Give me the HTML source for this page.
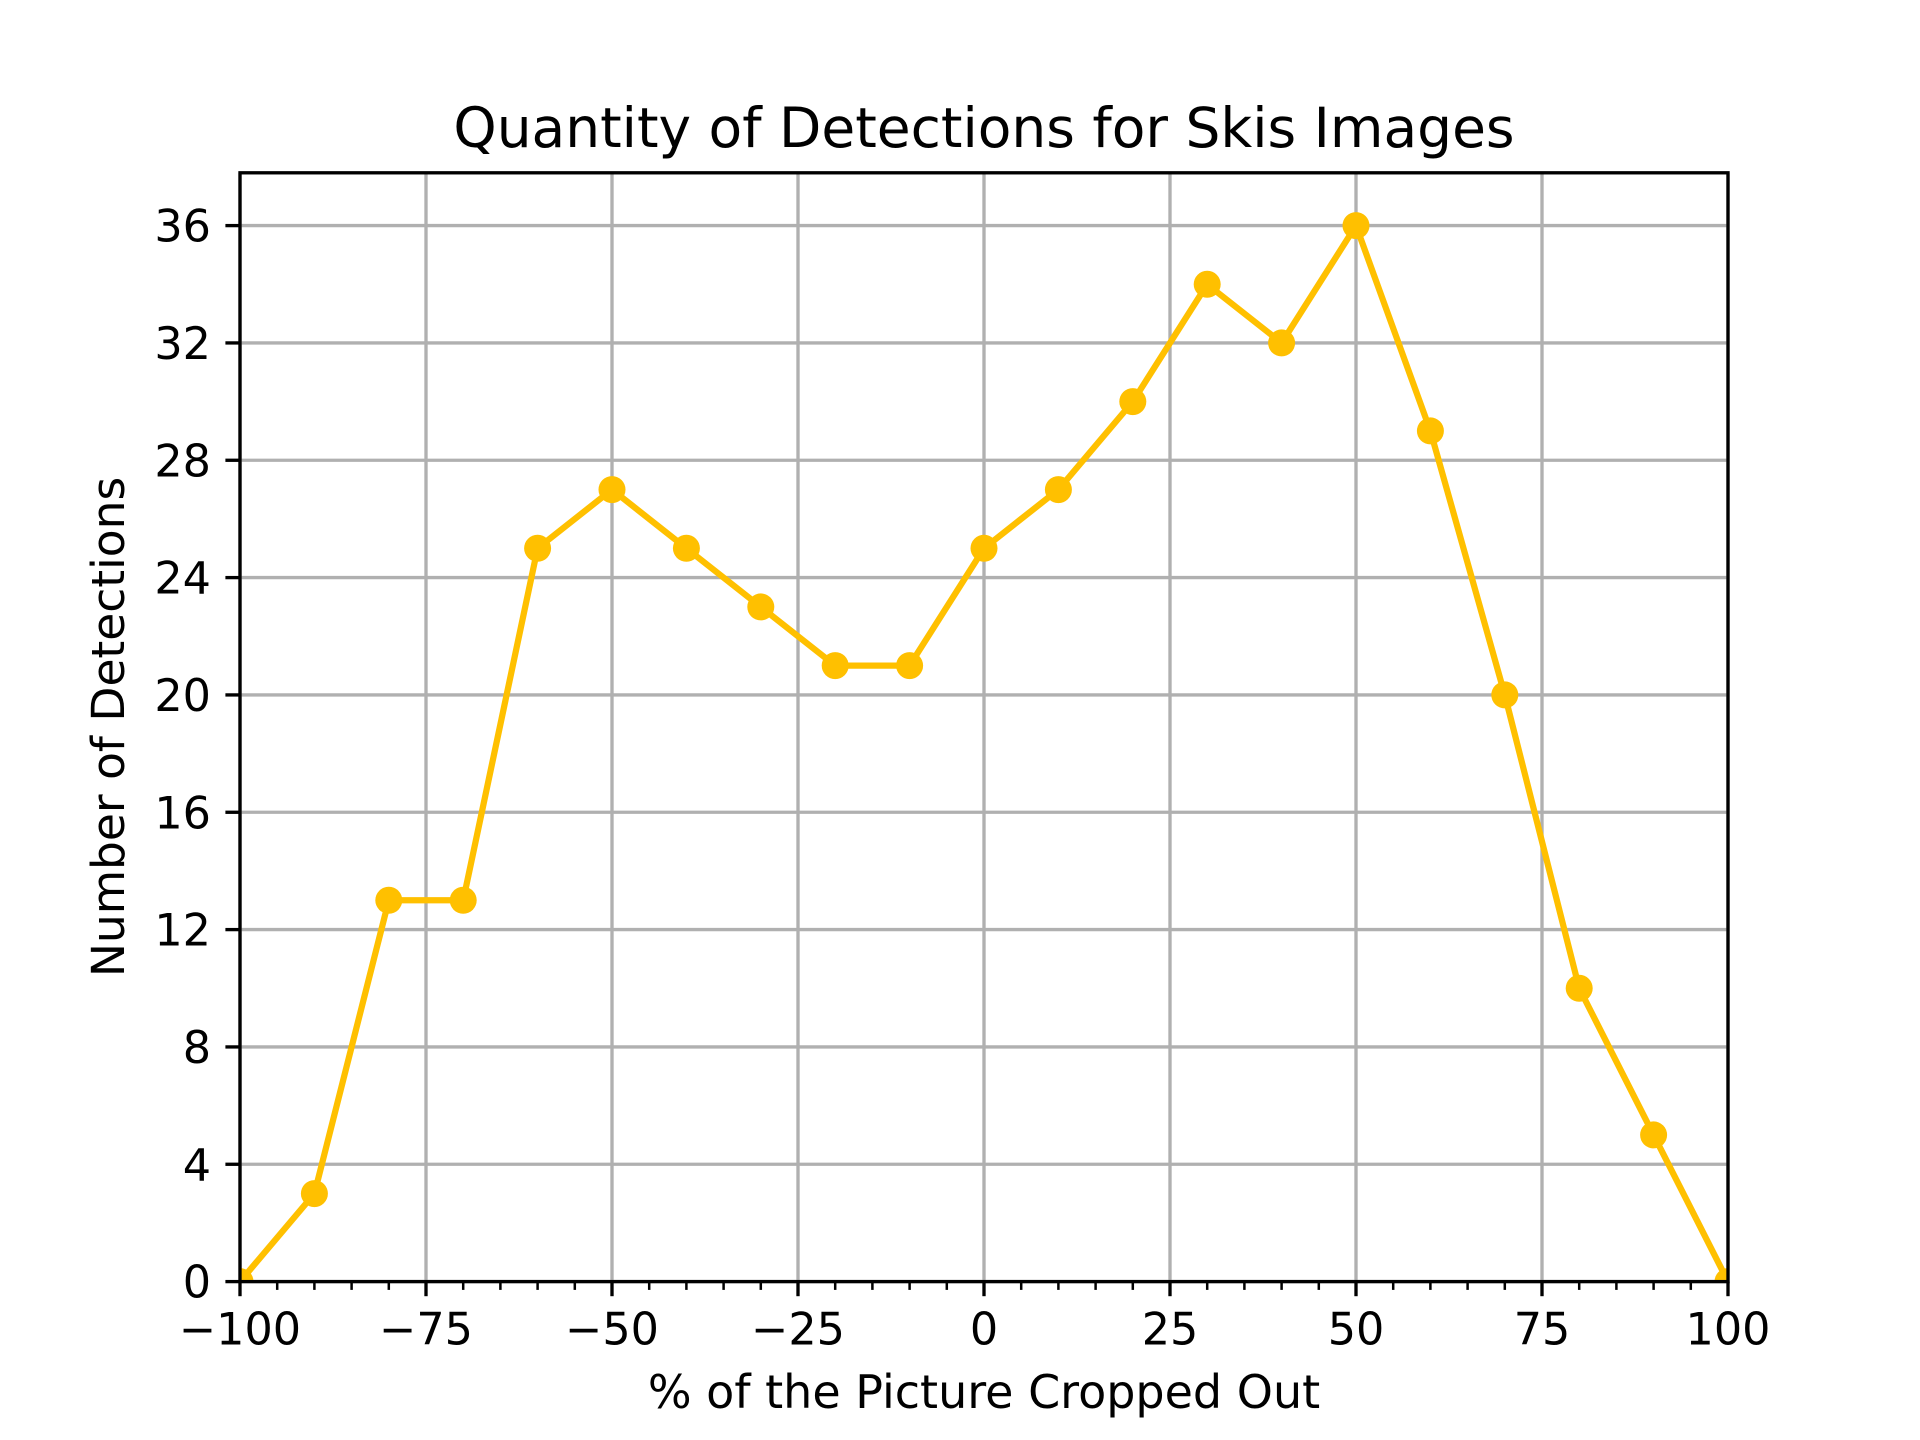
<!DOCTYPE html>
<html><head><meta charset="utf-8"><style>
html,body{margin:0;padding:0;background:#fff;}
svg{display:block;font-family:"DejaVu Sans","Liberation Sans",sans-serif;}
</style></head><body>
<svg id="chart" width="1920" height="1440" viewBox="0 0 1920 1440">
<rect x="0" y="0" width="1920" height="1440" fill="#fff"/>
<defs><clipPath id="clip"><rect x="240" y="172.8" width="1488" height="1108.8"/></clipPath></defs>
<g id="grid"></g>
<g id="series" clip-path="url(#clip)"></g>
<g id="axes"></g>
<text x="984" y="147" text-anchor="middle" font-size="55" fill="#000">Quantity of Detections for Skis Images</text>
<text x="984" y="1408" text-anchor="middle" font-size="46" fill="#000">% of the Picture Cropped Out</text>
<text transform="translate(124,727) rotate(-90)" text-anchor="middle" font-size="45.5" fill="#000">Number of Detections</text>
</svg>
<script>
const xValues = [-100,-90,-80,-70,-60,-50,-40,-30,-20,-10,0,10,20,30,40,50,60,70,80,90,100];
const detections = [0,3,13,13,25,27,25,23,21,21,25,27,30,34,32,36,29,20,10,5,0];
const xTicks = [-100,-75,-50,-25,0,25,50,75,100];
const xTickLabels = ["\u2212100","\u221275","\u221250","\u221225","0","25","50","75","100"];
const yTicks = [0,4,8,12,16,20,24,28,32,36];
const yTickLabels = ["0","4","8","12","16","20","24","28","32","36"];

const L=240,R=1728,T=172.8,B=1281.6;
const xMin=-100,xMax=100,yMin=0,yMax=37.8;
const sx=v=>L+(v-xMin)/(xMax-xMin)*(R-L);
const sy=v=>B-(v-yMin)/(yMax-yMin)*(B-T);
const NS="http://www.w3.org/2000/svg";
function mk(tag,attrs,parent){const e=document.createElementNS(NS,tag);for(const k in attrs)e.setAttribute(k,attrs[k]);parent.appendChild(e);return e;}
const grid=document.getElementById('grid'),axes=document.getElementById('axes'),series=document.getElementById('series');

xTicks.forEach((v,i)=>{
  const g=mk('line',{x1:sx(v),x2:sx(v),y1:T,y2:B,stroke:'#b0b0b0','stroke-width':3.33},grid);
  
  
  const t=mk('line',{x1:sx(v),x2:sx(v),y1:B,y2:B+14.6,stroke:'#000','stroke-width':3.33},axes);
  
  
  const lb=mk('text',{x:sx(v),y:B+29+34,'text-anchor':'middle','font-size':44.5,fill:'#000'},axes);
  lb.textContent=xTickLabels[i];
  
  
});
for(let v=xMin;v<=xMax;v+=5){
  if(v%25===0)continue;
  const m=mk('line',{x1:sx(v),x2:sx(v),y1:B,y2:B+8.3,stroke:'#000','stroke-width':2.5},axes);
  
  
}
yTicks.forEach((v,i)=>{
  const g=mk('line',{x1:L,x2:R,y1:sy(v),y2:sy(v),stroke:'#b0b0b0','stroke-width':3.33},grid);
  
  
  const t=mk('line',{x1:L-14.6,x2:L,y1:sy(v),y2:sy(v),stroke:'#000','stroke-width':3.33},axes);
  
  
  const lb=mk('text',{x:L-29,y:sy(v)+16,'text-anchor':'end','font-size':44.5,fill:'#000'},axes);
  lb.textContent=yTickLabels[i];
  
  
});
const frame=mk('rect',{x:L,y:T,width:R-L,height:B-T,fill:'none',stroke:'#000','stroke-width':3.33},axes);



const pts=xValues.map((x,i)=>sx(x)+','+sy(detections[i])).join(' ');
const line=mk('polyline',{points:pts,fill:'none',stroke:'#ffc000','stroke-width':6.25,'stroke-linejoin':'round'},series);


xValues.forEach((x,i)=>{
  const c=mk('circle',{cx:sx(x),cy:sy(detections[i]),r:13.5,fill:'#ffc000'},series);
  
  
});
</script>
</body></html>
